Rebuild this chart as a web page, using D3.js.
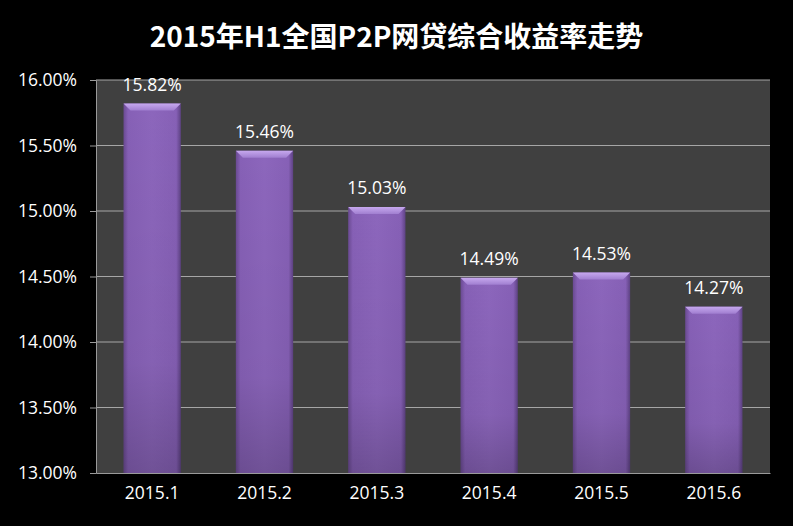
<!DOCTYPE html>
<html><head><meta charset="utf-8">
<script src="https://cdn.jsdelivr.net/npm/d3@7"></script>
<style>html,body{margin:0;padding:0;background:#000;}svg{display:block;}</style>
</head><body>
<script>
const title = "2015年H1全国P2P网贷综合收益率走势";
const categories = ["2015.1","2015.2","2015.3","2015.4","2015.5","2015.6"];
const values = [15.82,15.46,15.03,14.49,14.53,14.27];
const yTicks = [13.0,13.5,14.0,14.5,15.0,15.5,16.0];

const W = 793, H = 526;
const m = {left:96, right:23, top:80, bottom:53};
const FONT = "Open Sans, Liberation Sans, sans-serif";
const svg = d3.select("body").append("svg").attr("width",W).attr("height",H)
  .style("background","#000");
const defs = svg.append("defs");
const gH = defs.append("linearGradient").attr("id","barH").attr("x1",0).attr("x2",1).attr("y1",0).attr("y2",0);
gH.append("stop").attr("offset","0%").attr("stop-color","#6a4a92");
gH.append("stop").attr("offset","8%").attr("stop-color","#8660b6");
gH.append("stop").attr("offset","50%").attr("stop-color","#8c66bc");
gH.append("stop").attr("offset","92%").attr("stop-color","#8660b6");
gH.append("stop").attr("offset","100%").attr("stop-color","#5e4284");
const gV = defs.append("linearGradient").attr("id","barV").attr("x1",0).attr("x2",0).attr("y1",0).attr("y2",1);
gV.append("stop").attr("offset","0%").attr("stop-color","#000").attr("stop-opacity",0);
gV.append("stop").attr("offset","70%").attr("stop-color","#000").attr("stop-opacity",0.05);
gV.append("stop").attr("offset","100%").attr("stop-color","#000").attr("stop-opacity",0.2);
const gTop = defs.append("linearGradient").attr("id","barTop").attr("x1",0).attr("x2",0).attr("y1",0).attr("y2",1);
gTop.append("stop").attr("offset","0%").attr("stop-color","#c6a8ee");
gTop.append("stop").attr("offset","100%").attr("stop-color","#a07ed0");

const x = d3.scaleBand().domain(categories).range([m.left, W-m.right]).paddingInner(0.49).paddingOuter(0.245);
const y = d3.scaleLinear().domain([13,16]).range([H-m.bottom, m.top]);

svg.append("rect").attr("x",m.left).attr("y",m.top).attr("width",W-m.right-m.left).attr("height",H-m.bottom-m.top).attr("fill","#404040");

svg.append("g").selectAll("line").data(yTicks.slice(1)).join("line")
  .attr("x1",m.left).attr("x2",W-m.right).attr("y1",d=>y(d)).attr("y2",d=>y(d))
  .attr("stroke","#a6a6a6").attr("stroke-width",1.2);

const bars = svg.append("g").selectAll("g").data(values).join("g");
bars.append("rect").attr("x",(d,i)=>x(categories[i])).attr("width",x.bandwidth())
  .attr("y",d=>y(d)).attr("height",d=>y(13)-y(d)).attr("fill","url(#barH)");
bars.append("rect").attr("x",(d,i)=>x(categories[i])).attr("width",x.bandwidth())
  .attr("y",d=>y(d)).attr("height",d=>y(13)-y(d)).attr("fill","url(#barV)");
bars.append("path").attr("d",(d,i)=>{
  const x0=x(categories[i]), x1=x0+x.bandwidth(), t=y(d), b=7;
  return `M${x0},${t}L${x1},${t}L${x1-b},${t+b}L${x0+b},${t+b}Z`;
}).attr("fill","url(#barTop)");

bars.append("text").attr("x",(d,i)=>x(categories[i])+x.bandwidth()/2).attr("y",d=>y(d)-13)
  .attr("text-anchor","middle").attr("fill","#fff").attr("font-family",FONT)
  .attr("font-size",17.5).text(d=>d.toFixed(2)+"%");

const yAxis = d3.axisLeft(y).tickValues(yTicks).tickFormat(d=>d.toFixed(2)+"%").tickSize(6).tickPadding(13);
const ga = svg.append("g").attr("transform",`translate(${m.left},0)`).call(yAxis);
ga.select(".domain").attr("stroke","#9a9a9a");
ga.selectAll(".tick line").attr("stroke","#9a9a9a");
ga.selectAll("text").attr("fill","#fff").attr("font-size",17.5).attr("font-family",FONT);

const xAxis = d3.axisBottom(x).tickSize(0).tickPadding(14);
const gx = svg.append("g").attr("transform",`translate(0,${H-m.bottom})`).call(xAxis);
gx.select(".domain").attr("stroke","#9a9a9a").attr("stroke-width",1.2);
gx.selectAll("text").attr("fill","#fff").attr("font-size",17.5).attr("font-family",FONT);

svg.append("text").attr("x",W/2).attr("y",47).attr("text-anchor","middle").attr("fill","#fff")
  .attr("font-family","Noto Sans CJK SC, sans-serif").attr("font-weight","bold").attr("font-size",28).text(title);
</script>
</body></html>
